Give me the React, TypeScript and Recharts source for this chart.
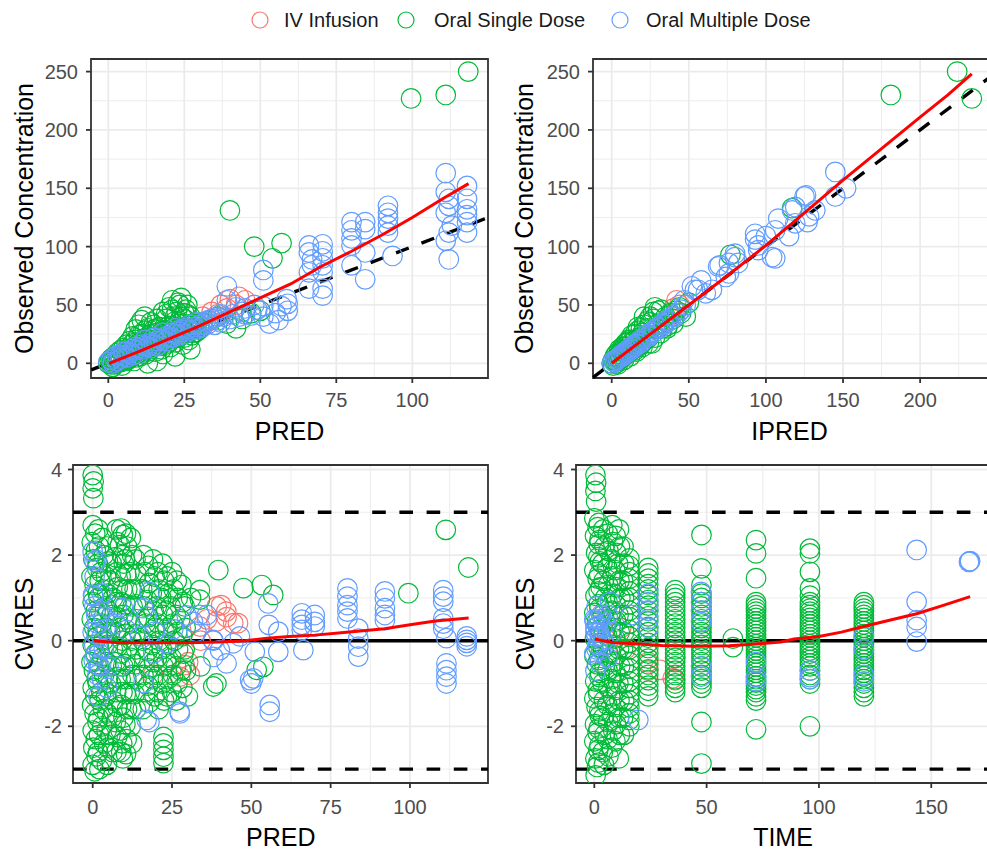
import React from 'react';
import {
  ScatterChart,
  Scatter,
  XAxis,
  YAxis,
  CartesianGrid,
  ReferenceLine,
  ReferenceArea,
} from 'recharts';

type Pt = [number, number];

const IV_COLOR = '#F8766D';
const SINGLE_COLOR = '#00BA38';
const MULTIPLE_COLOR = '#619CFF';
const FONT = '"Liberation Sans", Arial, sans-serif';

const groups = ['IV Infusion', 'Oral Single Dose', 'Oral Multiple Dose'];

// ---- Observed concentration vs PRED ----
const obsPredIV: Pt[] = [
  [26, 26], [29, 30], [31, 40], [33, 36], [34, 44], [36, 42], [37, 50], [39, 47], [40, 55], [42, 50], [43, 57], [45, 54],
];
const obsPredSingle: Pt[] = [
  [0, 0], [0.5, 2], [1, -1], [1, 4], [1.5, -3], [2, 3], [2, 6], [2.5, 0], [3, 5], [3, 9], [3.5, 2], [4, 6], [4, 11],
  [4.5, -2], [5, 8], [5, 13], [5.5, 3], [6, 9], [6, 16], [6.5, 4], [7, 11], [7, 19], [7.5, 6], [8, 13], [8, 23],
  [8.5, 2], [9, 15], [9, 29], [9.5, 8], [10, 17], [10, 33], [10.5, 6], [11, 19], [11, 37], [11.5, 10], [12, 21],
  [12, 40], [12.5, 8], [13, 23], [13, 30], [13.5, 12], [14, 25], [14, 35], [15, 18], [15, 29], [15.5, 10], [16, 26],
  [16, 38], [17, 20], [17, 31], [17.5, 12], [18, 24], [18, 44], [19, 28], [19, 16], [20, 26], [20, 48], [20.5, 14],
  [21, 32], [21, 54], [22, 30], [22, 18], [22.5, 44], [23, 34], [23, 22], [23.5, 50], [24, 30], [24, 56], [24.5, 16],
  [25, 38], [25, 22], [25.5, 46], [26, 32], [26, 50], [26.5, 20], [27, 30], [27, 40], [27.5, 24], [28, 34], [28, 26],
  [29, 32], [30, 29], [31, 35], [9, 20], [13, 17], [19, 38], [22, 40], [18, 8], [12, 28], [27, 12], [22, 6], [16, 2],
  [13, 0], [1, 1], [2, -1], [3, 2], [4, 1], [5, 4], [6, 2], [7, 4], [8, 6], [9, 5], [10, 11], [11, 8], [12, 12],
  [13, 10], [14, 14], [15, 14], [16, 16], [17, 15], [18, 18], [19, 20], [20, 18], [21, 22], [22, 22], [23, 26],
  [24, 24], [25, 28], [26, 26], [27, 32], [28, 30], [29, 27], [30, 33], [20, 32], [24, 40], [26, 42], [22, 36],
  [18, 28], [16, 30], [14, 20], [11, 25], [8, 17], [6, 12], [23, 52], [21, 46], [25, 43], [19, 42], [15, 33],
  [10, 24], [36, 40], [39, 34], [42, 30], [44, 38], [47, 43], [50, 45], [40, 131], [48, 100], [54, 90], [57, 103],
  [99.6, 227], [111, 230], [118.4, 250],
];
const obsPredMultiple: Pt[] = [
  [0, 1], [1, 3], [1.5, 0], [2, 5], [3, 2], [3, 7], [4, 4], [5, 6], [5, 10], [6, 5], [7, 9], [8, 7], [8, 12], [9, 11],
  [10, 13], [10, 8], [11, 12], [12, 15], [12, 20], [13, 14], [14, 17], [15, 16], [15, 22], [16, 19], [17, 21],
  [18, 20], [18, 26], [19, 23], [20, 22], [21, 26], [22, 25], [22, 30], [23, 28], [24, 27], [25, 30], [26, 29],
  [27, 33], [28, 31], [29, 35], [30, 33], [31, 31], [32, 36], [33, 34], [34, 38], [35, 33], [36, 37], [37, 35],
  [38, 40], [40, 38], [41, 42], [42, 48], [44, 44], [45, 42], [47, 41], [48, 50], [51, 40], [51, 49], [53, 34],
  [55, 43], [56, 37], [59, 51], [59, 45], [39, 54], [39, 66], [51, 71], [51, 80], [58.7, 55],
  [4, 7], [6, 10], [9, 14], [11, 16], [14, 13], [16, 15], [19, 19], [21, 22], [23, 24], [25, 25], [27, 28], [29, 29],
  [31, 33], [33, 37], [35, 39], [37, 42], [43, 40], [45, 47], [49, 46], [57, 49],
  [66, 101], [66, 95], [67, 89], [67, 84], [66, 78], [66, 64], [70.5, 102], [70.5, 96], [70.5, 90], [70.5, 84],
  [70.5, 78], [70.5, 64], [70.5, 58], [80, 121], [80, 114], [80, 107], [80, 101], [80, 84], [84.5, 121], [84.5, 115],
  [84.5, 95], [84.5, 72], [92, 135], [92, 129], [92, 124], [92, 118], [92, 112], [93.5, 92], [111, 163], [111, 147],
  [112, 141], [112, 135], [111, 129], [113, 118], [112, 112], [111, 105], [112, 89], [118, 152], [118, 141],
  [118, 132], [118, 127], [118, 121], [118, 112],
];
const fitObsPred: Pt[] = [
  [0.3, 0], [10, 10], [20, 21], [30, 32], [40, 44], [50, 56], [60, 68], [70, 83], [80, 96], [90, 110], [100, 125],
  [110, 141], [118.5, 154],
];

// ---- Observed concentration vs IPRED ----
const obsIpredIV: Pt[] = [[31, 31], [35, 36], [38, 42], [40, 47], [42, 54], [44, 50]];
const obsIpredSingle: Pt[] = [
  [0, 0], [1, 3], [1, -2], [2, 1], [2, 6], [3, 5], [3, 0], [4, 2], [5, 8], [5, 3], [6, 4], [6, 11], [7, 10], [8, 6],
  [8, 14], [9, 12], [10, 8], [10, 18], [11, 15], [12, 10], [12, 20], [13, 18], [14, 12], [15, 20], [15, 11],
  [16, 14], [17, 31], [18, 22], [18, 15], [19, 16], [20, 26], [21, 40], [22, 20], [23, 30], [24, 22], [25, 35],
  [26, 17], [27, 38], [28, 48], [29, 30], [30, 34], [32, 46], [33, 30], [35, 40], [36, 32], [38, 43], [40, 38],
  [42, 45], [45, 43], [48, 40], [50, 52], [44, 48], [3, 8], [5, 12], [7, 14], [9, 17], [11, 20], [13, 24], [15, 25],
  [17, 28], [19, 30], [21, 33], [23, 36], [25, 40], [27, 44], [30, 45], [4, -1], [8, 3], [12, 6], [16, 10], [20, 14],
  [24, 17], [28, 22], [32, 26], [36, 30], [40, 34], [77, 93], [117, 133], [181, 230], [224, 250], [233.5, 227],
];
const obsIpredMultiple: Pt[] = [
  [0, 0], [1, 2], [2, 1], [3, 3], [4, 4], [5, 5], [6, 7], [7, 6], [8, 8], [9, 10], [10, 9], [11, 11], [12, 13],
  [13, 12], [14, 15], [15, 14], [16, 17], [17, 16], [18, 19], [19, 18], [20, 21], [22, 22], [23, 25], [24, 23],
  [26, 27], [27, 26], [28, 29], [30, 31], [31, 30], [33, 34], [34, 33], [36, 37], [37, 36], [39, 40], [41, 40],
  [43, 43], [45, 46], [47, 54], [48, 50], [52, 66], [54, 63], [56, 63], [58, 71], [61, 60], [65, 63], [69, 83],
  [70, 84], [74, 74], [76, 86], [76, 77], [80, 94], [80, 91], [82, 86], [93, 106], [93, 111], [95, 101], [95, 97],
  [100, 109], [104, 91], [106, 114], [106, 90], [108, 124], [115, 109], [117, 131], [119, 120], [119, 134],
  [125, 143], [126, 144], [127, 121], [128, 126], [132, 131], [145, 164], [145, 143], [152, 150],
];
const fitObsIpred: Pt[] = [
  [0, 0], [25, 25], [50, 50], [75, 75], [100, 101], [125, 129], [150, 157], [175, 184], [200, 211], [218, 230],
  [233.5, 248],
];

// ---- CWRES vs PRED ----
const cwresPredIV: Pt[] = [
  [19, -0.8], [27.5, -0.84], [29, -0.57], [30.1, -0.5], [30.6, -0.8], [33.8, 0.33], [34, 0.0], [36, 0.5], [39, 0.45],
  [39.1, 0.8], [40.5, 0.83], [42.1, 0.68], [42.2, 0.55], [44.3, 0.41], [45.8, 0.41],
];
const cwresPredSingle: Pt[] = [
  [0, 3.87], [0.3, 3.72], [0, 3.56], [0.2, 3.33], [0, 2.7], [0.8, 2.5], [-0.3, 2.3], [1, 2.1], [0.2, 1.9], [1.4, 1.7],
  [-0.4, 1.5], [0.6, 1.3], [1.6, 1.1], [0, 0.9], [1, 0.7], [-0.3, 0.5], [0.5, 0.3], [1.5, 0.1], [0, -0.1], [0.9, -0.3],
  [-0.4, -0.5], [0.4, -0.7], [1.3, -0.9], [0, -1.1], [0.8, -1.3], [-0.2, -1.5], [0.6, -1.7], [1.5, -1.9], [0, -2.1],
  [1, -2.3], [0.2, -2.5], [1.2, -2.7], [0, -2.9], [0.6, -3.05],
  [1.8, 2.6], [2.0, 2.2], [1.6, 1.8], [2.2, 1.4], [1.8, 1.0], [2.0, 0.6], [1.7, 0.2], [2.1, -0.2], [1.9, -0.6],
  [1.6, -1.0], [2.2, -1.4], [1.8, -1.8], [2.0, -2.2], [1.7, -2.6], [2.1, -3.0],
  [3, 2.4], [3.5, 2.0], [2.6, 1.6], [3.2, 1.2], [3.8, 0.8], [2.8, 0.4], [3.4, 0], [3, -0.4], [3.6, -0.8], [2.7, -1.2],
  [3.3, -1.6], [3, -2.0], [3.6, -2.4], [2.9, -2.8],
  [4.5, 2.2], [4.8, 1.85], [4.2, 1.5], [4.6, 1.1], [4.9, 0.7], [4.3, 0.3], [4.7, -0.1], [4.4, -0.5], [4.8, -0.9],
  [4.2, -1.3], [4.6, -1.7], [4.4, -2.1], [4.8, -2.5], [4.5, -2.9],
  [6, 1.8], [5.6, 1.4], [6.4, 1.0], [6, 0.6], [5.5, 0.2], [6.3, -0.2], [6, -0.6], [5.7, -1.0], [6.4, -1.4], [6, -1.8],
  [5.6, -2.2], [6.2, -2.6],
  [7.5, 2.6], [7.8, 2.3], [7.2, 1.95], [7.6, 1.6], [7.9, 1.25], [7.3, 0.9], [7.7, 0.55], [7.4, 0.2], [7.8, -0.15],
  [7.2, -0.5], [7.6, -0.85], [7.4, -1.2], [7.8, -1.55], [7.3, -1.9], [7.7, -2.25], [7.5, -2.6],
  [9, 2.62], [9.5, 2.47], [8.6, 2.23], [9.2, 2.0], [9.8, 1.8], [8.8, 1.5], [9.4, 1.2], [9, 0.9], [9.7, 0.6], [8.7, 0.3],
  [9.3, 0], [9, -0.3], [9.6, -0.6], [8.8, -0.9], [9.4, -1.2], [9, -1.5], [9.7, -1.8], [8.8, -2.1], [9.3, -2.4],
  [9, -2.6], [9.5, -2.75],
  [10.5, 2.5], [10.8, 2.2], [10.2, 1.9], [10.6, 1.55], [10.9, 1.2], [10.3, 0.85], [10.7, 0.5], [10.4, 0.15],
  [10.8, -0.2], [10.2, -0.55], [10.6, -0.9], [10.4, -1.25], [10.8, -1.6], [10.3, -1.95], [10.7, -2.3], [10.5, -2.65],
  [12, 2.4], [12.4, 2.0], [11.6, 1.6], [12.2, 1.2], [12.6, 0.8], [11.8, 0.4], [12.3, 0], [12, -0.4], [12.5, -0.8],
  [11.7, -1.2], [12.2, -1.6], [12, -2.0], [12.4, -2.4],
  [13.5, 1.9], [13.8, 1.55], [13.2, 1.2], [13.6, 0.85], [13.9, 0.5], [13.3, 0.15], [13.7, -0.2], [13.4, -0.55],
  [13.8, -0.9], [13.2, -1.25], [13.6, -1.6],
  [16, 2.0], [16.5, 1.6], [15.6, 1.2], [16.2, 0.8], [16.7, 0.4], [15.8, 0], [16.3, -0.4], [16, -0.8], [16.6, -1.2],
  [15.8, -1.6],
  [17.5, 1.75], [17.8, 1.35], [17.2, 0.95], [17.6, 0.55], [17.9, 0.15], [17.3, -0.25], [17.7, -0.65], [17.4, -1.05],
  [17.8, -1.45],
  [19, 1.9], [19.5, 1.5], [18.6, 1.1], [19.2, 0.7], [19.7, 0.3], [18.8, -0.1], [19.3, -0.5], [19, -0.9], [19.5, -1.3],
  [20.5, 1.6], [20.8, 1.2], [20.2, 0.8], [20.6, 0.4], [20.9, 0.0], [20.3, -0.4], [20.7, -0.8], [20.4, -1.2],
  [20.8, -1.6],
  [22, 1.8], [22.5, 1.4], [21.6, 1.0], [22.2, 0.6], [22.7, 0.2], [21.8, -0.2], [22.3, -0.6], [22, -1.0], [22.5, -1.4],
  [22.3, -2.25], [22.3, -2.4], [22.3, -2.55], [22.3, -2.71], [22.3, -2.86],
  [23.5, 1.5], [23.8, 1.1], [23.2, 0.7], [23.6, 0.3], [23.9, -0.1], [23.3, -0.5], [23.7, -0.9], [23.4, -1.3],
  [25, 1.6], [25.5, 1.2], [24.6, 0.8], [25.2, 0.4], [25.7, 0], [24.8, -0.4], [25.3, -0.8], [25, -1.2],
  [26.5, 1.4], [26.8, 1.0], [26.2, 0.6], [26.6, 0.2], [26.9, -0.2], [26.3, -0.6], [26.7, -1.0], [26.4, -1.4],
  [28, 1.3], [28.4, 0.9], [27.6, 0.5], [28.2, 0.1], [28.6, -0.3], [27.8, -0.7], [28.3, -1.1],
  [29, 0.8], [29.3, 0.3], [29, -0.2], [29.4, -0.7],
  [31, 1.0], [33.8, 1.18], [33.8, 0.96], [34, -0.6], [30, -1.3], [38, -1.07], [39, -1.0], [39.6, 1.65], [47.5, 1.23],
  [53.3, 1.3], [56.9, 1.07], [51.7, -0.68], [53.8, -0.61], [99.5, 1.11], [111.3, 2.59], [118.4, 1.71],
];
const cwresPredMultiple: Pt[] = [
  [0, 2.08], [0.6, 1.85], [1.2, 1.89], [0.2, 1.03], [0.1, 1.07], [1.1, 0.6], [0, 0.2], [0.5, -0.1], [2, -0.3],
  [4, 0.27], [2.3, -0.6], [1.7, -0.57], [3, -0.9], [5, -0.6], [1.5, 0.4], [2.8, 0.1], [0.8, -0.35], [3.5, 0.55],
  [0.5, 0.8], [1.5, -0.8], [2.5, 0.7], [3.5, -0.2], [0.3, -0.45], [1.2, 0.15], [2.8, 1.1], [4.5, -1.1], [0.6, 1.5],
  [1.8, -1.3],
  [7.6, 0.79], [10.7, 0.25], [14.9, 0.1], [17, 0.56], [8.7, -0.6], [16, -0.99], [19.1, -0.3], [23.3, -0.06],
  [25.4, 0.27], [29.6, 0.59], [9.5, 0.76], [7.4, 0.39], [17.9, 1.14], [15.9, 0.76], [19.5, 0.21], [17, -1.85],
  [17.9, -1.9], [27.4, -1.66], [27.5, -1.7], [31.6, 0.44], [32.7, 0.21], [33.7, 0.6], [36, 0.6], [38, 0.0],
  [40.1, -0.22], [42.2, -0.53], [44.3, -0.06], [46.4, 0.1], [38, -0.38], [37.9, 0.02], [49.6, -0.92], [50, -1.0],
  [50.6, -0.88], [51.1, -0.26], [55.3, 0.87], [55.5, 0.37], [58.5, 0.21], [58.5, -0.26], [55.8, -1.5], [55.8, -1.66],
  [65.9, 0.64], [65.9, 0.49], [65.9, 0.37], [65.9, 0.25], [66.4, -0.22], [70, 0.6], [70, 0.44], [70, 0.33],
  [80.3, 1.22], [80.3, 1.03], [80.3, 0.83], [80.3, 0.68], [80.3, 0.52], [83.7, 0.28], [83.7, 0.05], [83.7, -0.14],
  [83.7, -0.37], [92.1, 1.15], [92.1, 0.99], [92.1, 0.76], [92.1, 0.6], [92.1, 0.48], [110.5, 1.18], [110.5, 1.03],
  [110.5, 0.91], [110.5, 0.52], [110.5, 0.4], [110.5, 0.28], [111.5, 0.06], [111.5, -0.53], [111.5, -0.69],
  [111.5, -0.84], [111.5, -1.0], [117.9, 0.1], [117.9, 0.02], [117.9, -0.05], [117.9, -0.13],
];
const fitCwresPred: Pt[] = [
  [0.3, 0.0], [8, -0.05], [20, -0.05], [30, -0.05], [40, -0.03], [48, 0.0], [55, 0.06], [62, 0.1], [70, 0.13],
  [80, 0.2], [92, 0.28], [100, 0.37], [108, 0.46], [118.5, 0.53],
];

// ---- CWRES vs TIME ----
const cwresTimeIV: Pt[] = [
  [12, 0.3], [14, -0.2], [24, -0.5], [24, -0.7], [29.3, -0.68], [34.9, -0.88], [35.9, -0.92], [36, -0.4],
];
const cwresTimeSingle: Pt[] = [
  [0.5, 3.87], [0.8, 3.69], [0.5, 3.5], [0.8, 3.25], [0, 2.86], [1.5, 2.65], [0.3, 2.45], [2, 2.25], [0.8, 2.05],
  [2.5, 1.85], [0, 1.65], [1.5, 1.45], [2.8, 1.25], [0.5, 1.05], [2, 0.85], [0, 0.65], [1.2, 0.45], [2.6, 0.25],
  [0.3, 0.05], [1.8, -0.15], [0, -0.35], [1.2, -0.55], [2.5, -0.75], [0.4, -0.95], [1.6, -1.15], [0, -1.35],
  [1, -1.55], [2.4, -1.75], [0.3, -1.95], [1.5, -2.15], [0, -2.35], [1.8, -2.55], [0.5, -2.75], [1.2, -2.95],
  [0.6, -3.15],
  [2, 2.75], [2.3, 2.35], [1.8, 1.95], [2.2, 1.55], [1.9, 1.15], [2.3, 0.75], [1.8, 0.35], [2.2, -0.05], [1.9, -0.45],
  [2.3, -0.85], [1.8, -1.25], [2.2, -1.65], [1.9, -2.05], [2.3, -2.45], [1.8, -2.85],
  [4, 2.6], [4.5, 2.2], [3.6, 1.8], [4.2, 1.4], [4.8, 1.0], [3.8, 0.6], [4.4, 0.2], [4, -0.2], [4.6, -0.6],
  [3.7, -1.0], [4.3, -1.4], [4, -1.8], [4.6, -2.2], [3.8, -2.6], [4.3, -2.9],
  [6, 2.5], [6.3, 2.1], [5.8, 1.7], [6.2, 1.3], [5.9, 0.9], [6.3, 0.5], [5.8, 0.1], [6.2, -0.3], [5.9, -0.7],
  [6.3, -1.1], [5.8, -1.5], [6.2, -1.9], [5.9, -2.3], [6.3, -2.7],
  [8, 2.7], [8.4, 2.3], [7.6, 1.9], [8.2, 1.5], [8.6, 1.1], [7.8, 0.7], [8.3, 0.3], [8, -0.1], [8.5, -0.5],
  [7.7, -0.9], [8.2, -1.3], [8, -1.7], [8.4, -2.1], [7.8, -2.5],
  [9.5, 2.45], [9.8, 2.05], [9.3, 1.65], [9.7, 1.25], [9.4, 0.85], [9.8, 0.45], [9.3, 0.05], [9.7, -0.35],
  [9.4, -0.75], [9.8, -1.15], [9.3, -1.55], [9.7, -1.95], [9.4, -2.35],
  [11, 2.6], [11.4, 2.2], [10.6, 1.8], [11.2, 1.4], [11.6, 1.0], [10.8, 0.6], [11.3, 0.2], [11, -0.2], [11.5, -0.6],
  [10.7, -1.0], [11.2, -1.4], [11, -1.8], [11.4, -2.2], [10.9, -2.75],
  [13, 2.2], [13.3, 1.8], [12.8, 1.4], [13.2, 1.0], [12.9, 0.6], [13.3, 0.2], [12.8, -0.2], [13.2, -0.6],
  [12.9, -1.0], [13.3, -1.4], [12.8, -1.8], [13.2, -2.2],
  [15.6, 1.92], [15.6, 1.75], [15.6, 1.6], [15.6, 1.45], [15.6, 1.3], [15.6, 1.15], [15.6, 1.0], [15.6, 0.85],
  [15.6, 0.7], [15.6, 0.55], [15.6, 0.4], [15.6, 0.25], [15.6, 0.1], [15.6, -0.05], [15.6, -0.2], [15.6, -0.35],
  [15.6, -0.5], [15.6, -0.65], [15.6, -0.8], [15.6, -0.95], [15.6, -1.1], [15.6, -1.25], [15.6, -1.4],
  [15.6, -1.55], [15.6, -1.7], [15.6, -1.85], [15.6, -2.0],
  [24, 1.7], [24, 1.57], [24, 1.45], [24, 1.32], [24, 1.2], [24, 1.07], [24, 0.95], [24, 0.82], [24, 0.7], [24, 0.57],
  [24, 0.45], [24, 0.32], [24, 0.2], [24, 0.07], [24, -0.05], [24, -0.17], [24, -0.3], [24, -0.42], [24, -0.55],
  [24, -0.67], [24, -0.8], [24, -0.92], [24, -1.05], [24, -1.17], [24, -1.3],
  [36, 1.18], [36, 1.09], [36, 1.0], [36, 0.9], [36, 0.8], [36, 0.7], [36, 0.6], [36, 0.5], [36, 0.4], [36, 0.3],
  [36, 0.2], [36, 0.1], [36, 0], [36, -0.1], [36, -0.2], [36, -0.3], [36, -0.4], [36, -0.5], [36, -0.6], [36, -0.7],
  [36, -0.8], [36, -0.9], [36, -1.0], [36, -1.1], [36, -1.2],
  [47.7, 2.47], [47.7, 1.69], [47.7, 1.3], [47.7, 1.1], [47.7, 1.0], [47.7, 0.9], [47.7, 0.8], [47.7, 0.7],
  [47.7, 0.6], [47.7, 0.5], [47.7, 0.4], [47.7, 0.3], [47.7, 0.2], [47.7, 0.1], [47.7, 0], [47.7, -0.1], [47.7, -0.2],
  [47.7, -0.3], [47.7, -0.4], [47.7, -0.5], [47.7, -0.6], [47.7, -0.7], [47.7, -0.8], [47.7, -0.9], [47.7, -1.0],
  [47.7, -1.1], [47.7, -1.9], [47.7, -2.87],
  [61.7, 0.05], [61.7, -0.15],
  [72, 2.35], [72, 2.04], [72, 1.46], [72, 0.9], [72, 0.83], [72, 0.75], [72, 0.68], [72, 0.6], [72, 0.53], [72, 0.45],
  [72, 0.38], [72, 0.3], [72, 0.23], [72, 0.15], [72, 0.08], [72, 0], [72, -0.08], [72, -0.15], [72, -0.23],
  [72, -0.3], [72, -0.38], [72, -0.45], [72, -0.53], [72, -0.6], [72, -0.68], [72, -0.75], [72, -0.83], [72, -0.9],
  [72, -0.98], [72, -1.05], [72, -1.13], [72, -1.2], [72, -1.3], [72, -1.4], [72, -2.07],
  [96, 2.15], [96, 2.04], [96, 1.61], [96, 1.22], [96, 1.05], [96, 0.9], [96, 0.83], [96, 0.75], [96, 0.68], [96, 0.6],
  [96, 0.53], [96, 0.45], [96, 0.38], [96, 0.3], [96, 0.23], [96, 0.15], [96, 0.08], [96, 0], [96, -0.08],
  [96, -0.15], [96, -0.23], [96, -0.3], [96, -0.38], [96, -0.45], [96, -0.53], [96, -0.6], [96, -0.7], [96, -0.8],
  [96, -0.9], [96, -1.0], [96, -2.0],
  [120, 0.9], [120, 0.83], [120, 0.75], [120, 0.68], [120, 0.6], [120, 0.53], [120, 0.45], [120, 0.38], [120, 0.3],
  [120, 0.23], [120, 0.15], [120, 0.08], [120, 0], [120, -0.08], [120, -0.15], [120, -0.23], [120, -0.3],
  [120, -0.38], [120, -0.45], [120, -0.53], [120, -0.6], [120, -0.68], [120, -0.75], [120, -0.83], [120, -0.9],
  [120, -1.0], [120, -1.1], [120, -1.2], [120, -1.3],
];
const cwresTimeMultiple: Pt[] = [
  [0, 0.5], [0.5, 0.3], [1, 0.1], [1.5, -0.1], [0, -0.3], [2, 0.2], [3, 0.6], [2.5, -0.5], [4, 0.0], [5, 0.4],
  [6, 0.6], [1, 0.8], [0.5, -0.7], [3, -0.2], [6, -0.4], [7, 0.9], [8, 0.2], [0.5, 0.2], [1.5, 0.35], [2.5, 0.1],
  [3.5, 0.3], [0.2, 0.45], [1, -0.2], [2, 0.5], [4.5, -0.1], [16.3, 0.6], [19.6, -1.85], [24, 1.1], [24, 0.9],
  [24, 0.7], [24, 0.5], [24, 0.3], [47.5, 1.14], [47.5, 0.9], [47.5, 0.7], [47.5, 0.44], [47.5, -0.6], [47.5, -0.84],
  [72, -0.5], [72, -0.85], [72, -0.95], [96, -0.7], [96, -0.85], [96, -0.9], [120, 0.1], [120, -0.2], [120, -0.8],
  [120, -0.95], [143.5, 2.12], [143.5, 0.91], [143.5, 0.48], [143.5, 0.32], [143.5, -0.02], [167, 1.85],
  [167.3, 1.86], [166.8, 1.84],
];
const fitCwresTime: Pt[] = [
  [0.3, 0.04], [4, 0.0], [9, -0.05], [20, -0.08], [30, -0.11], [45, -0.13], [60, -0.12], [72, -0.08], [83, -0.03],
  [89, 0.04], [100, 0.1], [110, 0.2], [119, 0.32], [130, 0.46], [143.5, 0.63], [155, 0.82], [167.3, 1.03],
];

const toXY = (pts: Pt[]) => pts.map(([x, y]) => ({ x, y }));

const ring = (color: string) => (p: any) =>
  p.cx == null ? <g /> : <circle cx={p.cx} cy={p.cy} r={9.8} fill="none" stroke={color} strokeWidth={1.2} />;

const noDot = () => <g />;

interface PanelProps {
  left: number;
  top: number;
  width: number;
  height: number;
  margin: { top: number; right: number; bottom: number; left: number };
  yAxisWidth: number;
  xAxisHeight: number;
  xDomain: [number, number];
  yDomain: [number, number];
  xTicks: number[];
  yTicks: number[];
  xMinor: number[];
  yMinor: number[];
  xTickMargin: number;
  yTickMargin: number;
  iv: Pt[];
  single: Pt[];
  multiple: Pt[];
  fit: Pt[];
  residual?: boolean;
}

function Panel(props: PanelProps) {
  const { xDomain, yDomain } = props;
  const tickStyle = { fill: '#4D4D4D', fontSize: 20, fontFamily: FONT };
  const tickLine = { stroke: '#333333', strokeWidth: 1.8 };
  // identity line spans the part of the panel where both axes overlap
  const lo = Math.max(xDomain[0], yDomain[0]) + 0.1;
  const hi = Math.min(xDomain[1], yDomain[1]) - 0.1;
  return (
    <div style={{ position: 'absolute', left: props.left, top: props.top }}>
      <ScatterChart width={props.width} height={props.height} margin={props.margin}>
        <CartesianGrid stroke="#EBEBEB" strokeWidth={0.9} verticalValues={props.xMinor} horizontalValues={props.yMinor} />
        <CartesianGrid stroke="#EBEBEB" strokeWidth={1.8} />
        <XAxis
          type="number"
          dataKey="x"
          domain={xDomain}
          allowDataOverflow
          ticks={props.xTicks}
          interval={0}
          axisLine={false}
          tickLine={tickLine}
          tickSize={5}
          tickMargin={props.xTickMargin}
          tick={tickStyle}
          height={props.xAxisHeight}
        />
        <YAxis
          type="number"
          dataKey="y"
          domain={yDomain}
          allowDataOverflow
          ticks={props.yTicks}
          interval={0}
          axisLine={false}
          tickLine={tickLine}
          tickSize={5}
          tickMargin={props.yTickMargin}
          tick={tickStyle}
          width={props.yAxisWidth}
        />
        <Scatter name={groups[0]} data={toXY(props.iv)} shape={ring(IV_COLOR)} isAnimationActive={false} />
        <Scatter name={groups[1]} data={toXY(props.single)} shape={ring(SINGLE_COLOR)} isAnimationActive={false} />
        <Scatter name={groups[2]} data={toXY(props.multiple)} shape={ring(MULTIPLE_COLOR)} isAnimationActive={false} />
        <Scatter
          data={toXY(props.fit)}
          line={{ stroke: '#FF0000', strokeWidth: 3 }}
          shape={noDot}
          isAnimationActive={false}
        />
        {props.residual ? (
          <>
            <ReferenceLine y={0} stroke="#000000" strokeWidth={3.4} ifOverflow="visible" />
            <ReferenceLine y={3} stroke="#000000" strokeWidth={3.4} strokeDasharray="13.6 13.6" ifOverflow="visible" />
            <ReferenceLine y={-3} stroke="#000000" strokeWidth={3.4} strokeDasharray="13.6 13.6" ifOverflow="visible" />
          </>
        ) : (
          <ReferenceLine
            segment={[{ x: lo, y: lo }, { x: hi, y: hi }]}
            stroke="#000000"
            strokeWidth={3.4}
            strokeDasharray="13.6 13.6"
            ifOverflow="visible"
          />
        )}
        <ReferenceArea
          x1={xDomain[0]}
          x2={xDomain[1]}
          y1={yDomain[0]}
          y2={yDomain[1]}
          fill="none"
          fillOpacity={0}
          stroke="#333333"
          strokeWidth={1.8}
          ifOverflow="visible"
        />
      </ScatterChart>
    </div>
  );
}

function Titles() {
  const title = { fontFamily: FONT, fontSize: 25, fill: '#000000' };
  const legendColors = [IV_COLOR, SINGLE_COLOR, MULTIPLE_COLOR];
  const legendCircleX = [260, 406, 620];
  const legendTextX = [284, 434, 646];
  return (
    <svg width={987} height={853} style={{ position: 'absolute', left: 0, top: 0, pointerEvents: 'none' }}>
      {groups.map((g, i) => (
        <g key={g}>
          <circle cx={legendCircleX[i]} cy={20} r={8} fill="none" stroke={legendColors[i]} strokeWidth={1.2} />
          <text x={legendTextX[i]} y={27} fontFamily={FONT} fontSize={20} fill="#1A1A1A">
            {g}
          </text>
        </g>
      ))}
      <text x={289.5} y={440} textAnchor="middle" {...title}>PRED</text>
      <text x={789.5} y={440} textAnchor="middle" {...title}>IPRED</text>
      <text x={280.8} y={846} textAnchor="middle" {...title}>PRED</text>
      <text x={783} y={846} textAnchor="middle" {...title}>TIME</text>
      <text transform="translate(33,218.5) rotate(-90)" textAnchor="middle" {...title}>Observed Concentration</text>
      <text transform="translate(533,218.5) rotate(-90)" textAnchor="middle" {...title}>Observed Concentration</text>
      <text transform="translate(32.5,624) rotate(-90)" textAnchor="middle" {...title}>CWRES</text>
      <text transform="translate(534,624) rotate(-90)" textAnchor="middle" {...title}>CWRES</text>
    </svg>
  );
}

export default function App() {
  const concTicks = [0, 50, 100, 150, 200, 250];
  const concMinor = [25, 75, 125, 175, 225];
  const cwresTicks = [-2, 0, 2, 4];
  const cwresMinor = [-3, -1, 1, 3];
  return (
    <div
      style={{
        position: 'fixed',
        left: 0,
        top: 0,
        width: 987,
        height: 853,
        overflow: 'hidden',
        background: '#ffffff',
      }}
    >
      <Panel
        left={0}
        top={40}
        width={500}
        height={420}
        margin={{ top: 19, right: 12, bottom: 0, left: 0 }}
        yAxisWidth={91}
        xAxisHeight={82}
        xDomain={[-5.69, 124.9]}
        yDomain={[-12.6, 260.8]}
        xTicks={[0, 25, 50, 75, 100]}
        yTicks={concTicks}
        xMinor={[12.5, 37.5, 62.5, 87.5, 112.5]}
        yMinor={concMinor}
        xTickMargin={10}
        yTickMargin={8}
        iv={obsPredIV}
        single={obsPredSingle}
        multiple={obsPredMultiple}
        fit={fitObsPred}
      />
      <Panel
        left={500}
        top={40}
        width={500}
        height={420}
        margin={{ top: 19, right: 10, bottom: 0, left: 0 }}
        yAxisWidth={93}
        xAxisHeight={82}
        xDomain={[-12.13, 245.3]}
        yDomain={[-12.6, 260.8]}
        xTicks={[0, 50, 100, 150, 200]}
        yTicks={concTicks}
        xMinor={[25, 75, 125, 175, 225]}
        yMinor={concMinor}
        xTickMargin={10}
        yTickMargin={8}
        iv={obsIpredIV}
        single={obsIpredSingle}
        multiple={obsIpredMultiple}
        fit={fitObsIpred}
      />
      <Panel
        left={0}
        top={445}
        width={500}
        height={408}
        margin={{ top: 20, right: 12, bottom: 0, left: 0 }}
        yAxisWidth={73}
        xAxisHeight={70}
        xDomain={[-6.21, 124.6]}
        yDomain={[-3.325, 4.105]}
        xTicks={[0, 25, 50, 75, 100]}
        yTicks={cwresTicks}
        xMinor={[12.5, 37.5, 62.5, 87.5, 112.5]}
        yMinor={cwresMinor}
        xTickMargin={12}
        yTickMargin={6}
        iv={cwresPredIV}
        single={cwresPredSingle}
        multiple={cwresPredMultiple}
        fit={fitCwresPred}
        residual
      />
      <Panel
        left={500}
        top={445}
        width={500}
        height={408}
        margin={{ top: 20, right: 9, bottom: 0, left: 0 }}
        yAxisWidth={76}
        xAxisHeight={70}
        xDomain={[-8.15, 176.6]}
        yDomain={[-3.325, 4.105]}
        xTicks={[0, 50, 100, 150]}
        yTicks={cwresTicks}
        xMinor={[25, 75, 125]}
        yMinor={cwresMinor}
        xTickMargin={12}
        yTickMargin={7}
        iv={cwresTimeIV}
        single={cwresTimeSingle}
        multiple={cwresTimeMultiple}
        fit={fitCwresTime}
        residual
      />
      <Titles />
    </div>
  );
}
